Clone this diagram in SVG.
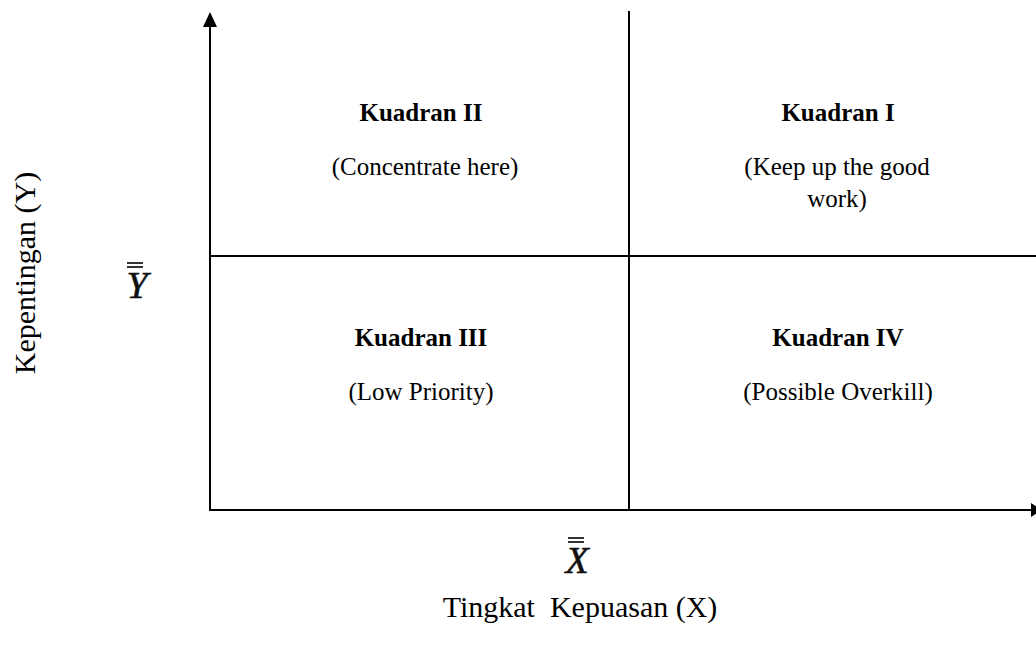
<svg xmlns="http://www.w3.org/2000/svg" width="1036" height="650" viewBox="0 0 1036 650">
<style>
.ln{stroke:#000;stroke-width:2;fill:none}
.t{font-family:"Liberation Serif","Times New Roman",serif;fill:#000;text-anchor:middle}
.h{font-size:25px;font-weight:bold}
.s{font-size:25px}
.ax{font-size:30px}
.sym{font-family:"Liberation Serif","Times New Roman",serif;font-style:italic;font-size:38px;fill:#111;stroke:#111;stroke-width:0.6;text-anchor:middle}
.bar{stroke:#333;stroke-width:2}
</style>
<rect width="1036" height="650" fill="#fff"/>
<g id="connectors">
<line class="ln" x1="210" y1="26" x2="210" y2="511"/>
<polygon points="210,12 203,27 217,27" fill="#000"/>
<line class="ln" x1="209" y1="510" x2="1036" y2="510"/>
<polygon points="1042,510 1031,503 1031,517" fill="#000"/>
<line class="ln" x1="629" y1="11" x2="629" y2="510"/>
<line class="ln" x1="210" y1="256" x2="1036" y2="256"/>
</g>
<g id="q2">
<text class="t h" x="421" y="121">Kuadran II</text>
<text class="t s" x="425" y="175">(Concentrate here)</text>
</g>
<g id="q1">
<text class="t h" x="838" y="121">Kuadran I</text>
<text class="t s" x="837" y="175">(Keep up the good</text>
<text class="t s" x="837" y="207">work)</text>
</g>
<g id="q3">
<text class="t h" x="421" y="346">Kuadran III</text>
<text class="t s" x="421" y="400">(Low Priority)</text>
</g>
<g id="q4">
<text class="t h" x="838" y="346">Kuadran IV</text>
<text class="t s" x="838" y="400">(Possible Overkill)</text>
</g>
<g id="ybar">
<line class="bar" x1="127" y1="263" x2="143" y2="263"/>
<line class="bar" x1="127" y1="267" x2="143" y2="267"/>
<text class="sym" x="137" y="298">Y</text>
</g>
<g id="xbar">
<line class="bar" x1="568" y1="538" x2="584" y2="538"/>
<line class="bar" x1="568" y1="542" x2="584" y2="542"/>
<text class="sym" x="577" y="573">X</text>
</g>
<g id="ylabel">
<text class="t ax" transform="translate(35,273) rotate(-90)" x="0" y="0">Kepentingan (Y)</text>
</g>
<g id="xlabel">
<text class="t ax" x="580" y="617" xml:space="preserve">Tingkat  Kepuasan (X)</text>
</g>
</svg>
